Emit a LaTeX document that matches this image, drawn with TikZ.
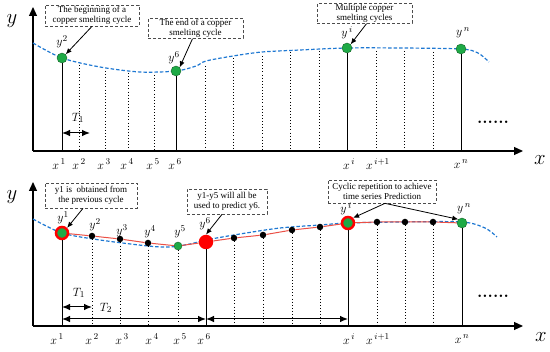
\documentclass[tikz,border=0pt]{standalone}
\usepackage{fontspec}
\newfontfamily\boxfont{Liberation Serif}
\usepackage{amsmath}
\usetikzlibrary{arrows.meta,positioning}
\definecolor{ptgreen}{RGB}{30,170,70}
\definecolor{ptgreenD}{RGB}{20,100,40}
\definecolor{curveblue}{RGB}{30,120,210}
\definecolor{linered}{RGB}{235,80,70}
\tikzset{
  axisline/.style={-{Triangle[length=9pt,width=8pt]}, line width=1.2pt},
  solidline/.style={line width=0.9pt},
  dotline/.style={line width=0.9pt, dash pattern=on 0.9pt off 2.2pt},
  trend/.style={curveblue, line width=1.2pt, dash pattern=on 3.5pt off 2pt},
  redline/.style={linered, line width=1pt},
  callout/.style={draw=black!70, line width=0.7pt, dash pattern=on 3pt off 2pt,
                  align=center, inner sep=1pt,
                  font=\boxfont\fontsize{9}{9.5}\selectfont},
  gdot/.style={circle, fill=ptgreen, draw=ptgreenD, line width=0.4pt,
               minimum size=10pt, inner sep=0pt},
  bdot/.style={circle, fill=black, minimum size=6.5pt, inner sep=0pt},
  rdot/.style={circle, fill=red, minimum size=14.5pt, inner sep=0pt},
  rring/.style={circle, fill=ptgreen, draw=red, line width=2.5pt,
                minimum size=12pt, inner sep=0pt},
  ptlab/.style={font=\fontsize{13}{13}\selectfont, inner sep=0pt},
  axlab/.style={font=\fontsize{21}{21}\selectfont, inner sep=0pt},
  pointer/.style={-{Latex[length=6pt,width=5pt]}, line width=0.8pt},
  spanarrow/.style={{Latex[length=8pt,width=6.5pt]}-{Latex[length=8pt,width=6.5pt]},
                    line width=1pt},
  moredots/.style={font=\fontsize{17}{17}\selectfont\bfseries, inner sep=0pt, anchor=base},
}

\begin{document}
\begin{tikzpicture}[x=1pt,y=-1pt]
  \useasboundingbox (0,0) rectangle (550,352);

  %%% upper panel
  \coordinate (O1) at (33,151);
  \draw[axisline] (O1) -- (33,7);
  \draw[axisline] (O1) -- (523,151);
  \node[axlab] (ya1) at (12,21) {$y$};
  \node[axlab] (xa1) at (540,160) {$x$};
  % trend curve
  \draw[trend] plot[smooth] coordinates {(33,43) (62,58) (100,67) (140,72) (176,71)
    (196,66) (206,61) (233,56) (262,52) (300,50) (347,48) (400,48) (461,49)
    (478,53) (489,62)};
  % sampling lines
  \foreach \x/\t in {79/65,105/71,128/73,154/75,205/66,233/58,262/56,290/52,
                     319/51,376/51,404/51,433/52}
    \draw[dotline] (\x,\t) -- (\x,151);
  % cycle points
  \node[gdot] (p2) at (62,58) {};
  \node[gdot] (p6) at (176,71) {};
  \node[gdot] (pi) at (347,48) {};
  \node[gdot] (pn) at (461,49) {};
  \foreach \p in {p2,p6,pi,pn}
    \draw[solidline] (\p.south) -- (\p |- O1);
  \node[ptlab] (ly2) at (62,42) {$y^{2}$};
  \node[ptlab] (ly6) at (174,58) {$y^{6}$};
  \node[ptlab] (lyi) at (347,33) {$y^{\,i}$};
  \node[ptlab] (lyn) at (463,33) {$y^{\,n}$};
  % x labels
  \foreach \x/\l in {59/1,79/2,104/3,127/4,153/5,175/6,349/i,378/i+1,461/n}
    \node[ptlab] (tx\x) at (\x,164) {$x^{\,\l}$};
  % period
  \coordinate (ta1) at (62,133);
  \coordinate (tb1) at (90,133);
  \draw[spanarrow] (ta1) -- (tb1);
  \node[ptlab] (T1a) at (78,118) {$T_1$};
  \node[moredots] (dt1) at (493,124) {......};
  % callouts
  \node[callout, minimum width=94pt, minimum height=21pt] (cb1) at (92,15.5)
    {The beginning of a\\copper smelting cycle};
  \node[callout, minimum width=95pt, minimum height=19pt] (cb2) at (195.5,28.5)
    {The end of a copper\\smelting cycle};
  \node[callout, minimum width=95pt, minimum height=19pt] (cb3) at (364.5,13.5)
    {Multiple copper\\smelting cycles};
  \draw[pointer] (cb1.south) -- (p2.north east);
  \draw[pointer] ([xshift=-3pt]cb2.south) -- (p6.north east);
  \draw[pointer] ([xshift=2pt]cb3.south) -- (pi.north east);

  %%% lower panel
  \coordinate (O2) at (33,326);
  \draw[axisline] (O2) -- (33,182);
  \draw[axisline] (O2) -- (523,326);
  \node[axlab] (ya2) at (12,197) {$y$};
  \node[axlab] (xa2) at (541,337) {$x$};
  % trend curve
  \draw[trend] plot[smooth] coordinates {(33,219) (62,233) (100,240) (148,246)
    (170,247) (190,244) (206,240) (240,234) (280,228) (320,225) (348,223)
    (400,222) (462,222) (485,228) (497,237)};
  % points
  \node[rring] (q1) at (62,233) {};
  \node[bdot] (q2) at (92,236) {};
  \node[bdot] (q3) at (120,239) {};
  \node[bdot] (q4) at (148,243) {};
  \node[gdot, minimum size=8pt] (q5) at (178,246) {};
  \node[rdot] (q6) at (206,242) {};
  \node[bdot] (q7) at (234,238) {};
  \node[bdot] (q8) at (263,235) {};
  \node[bdot] (q9) at (292,230) {};
  \node[bdot] (q10) at (320,227) {};
  \node[rring] (qi) at (348,223) {};
  \node[bdot] (q11) at (377,222) {};
  \node[bdot] (q12) at (405,222) {};
  \node[bdot] (q13) at (433,222) {};
  \node[gdot] (qn) at (462,223) {};
  \draw[redline] (q1) -- (q2) -- (q3) -- (q4) -- (q5) -- (q6) -- (q7) -- (q8)
    -- (q9) -- (q10) -- (qi) -- (q11) -- (q12) -- (q13) -- (qn);
  \foreach \p in {q2,q3,q4,q5,q7,q8,q9,q10,q11,q12,q13}
    \draw[dotline] (\p.south) -- (\p |- O2);
  \foreach \p in {q1,q6,qi,qn}
    \draw[solidline] (\p.south) -- (\p |- O2);
  \node[ptlab] (my1) at (63,218) {$y^{1}$};
  \node[ptlab] (my2) at (95,225) {$y^{2}$};
  \node[ptlab] (my3) at (122,231) {$y^{3}$};
  \node[ptlab] (my4) at (150,232) {$y^{4}$};
  \node[ptlab] (my5) at (180,232) {$y^{5}$};
  \node[ptlab] (my6) at (205,224) {$y^{6}$};
  \node[ptlab] (myi) at (346,209) {$y^{\,i}$};
  \node[ptlab] (myn) at (464,209) {$y^{\,n}$};
  % x labels
  \foreach \x/\l in {57/1,92/2,122/3,152/4,180/5,204/6,349/i,378/i+1,462/n}
    \node[ptlab] (bx\x) at (\x,339) {$x^{\,\l}$};
  % periods
  \coordinate (ta2) at (62,307);
  \coordinate (tb2) at (92,307);
  \draw[spanarrow] (ta2) -- (tb2);
  \node[ptlab] (T1b) at (79,293) {$T_1$};
  \coordinate (sa) at (62,319);
  \coordinate (sb) at (206,319);
  \coordinate (sc) at (348,319);
  \draw[spanarrow] (sa) -- (sb);
  \draw[spanarrow] (sb) -- (sc);
  \node[ptlab] (T2b) at (106,308) {$T_2$};
  \node[moredots] (dt2) at (493,298) {......};
  % callouts
  \node[callout, minimum width=92pt, minimum height=25pt] (cb4) at (91,195.5)
    {y1 is \ obtained from\\the previous cycle};
  \node[callout, minimum width=80pt, minimum height=25pt] (cb5) at (227,201.5)
    {y1-y5 will all be\\used to predict y6.};
  \node[callout, minimum width=108pt, minimum height=23pt] (cb6) at (382,191.5)
    {Cyclic repetition to achieve\\time series Prediction};
  \draw[pointer] ([xshift=-8pt]cb4.south) -- (q1.north east);
  \draw[pointer] ([xshift=-5pt]cb5.south) -- (q6.north);
  \draw[pointer] ([xshift=3pt]cb6.south) -- (qi.north east);
  \draw[pointer] ([xshift=3pt]cb6.south) -- (qn.north west);
\end{tikzpicture}
\end{document}
